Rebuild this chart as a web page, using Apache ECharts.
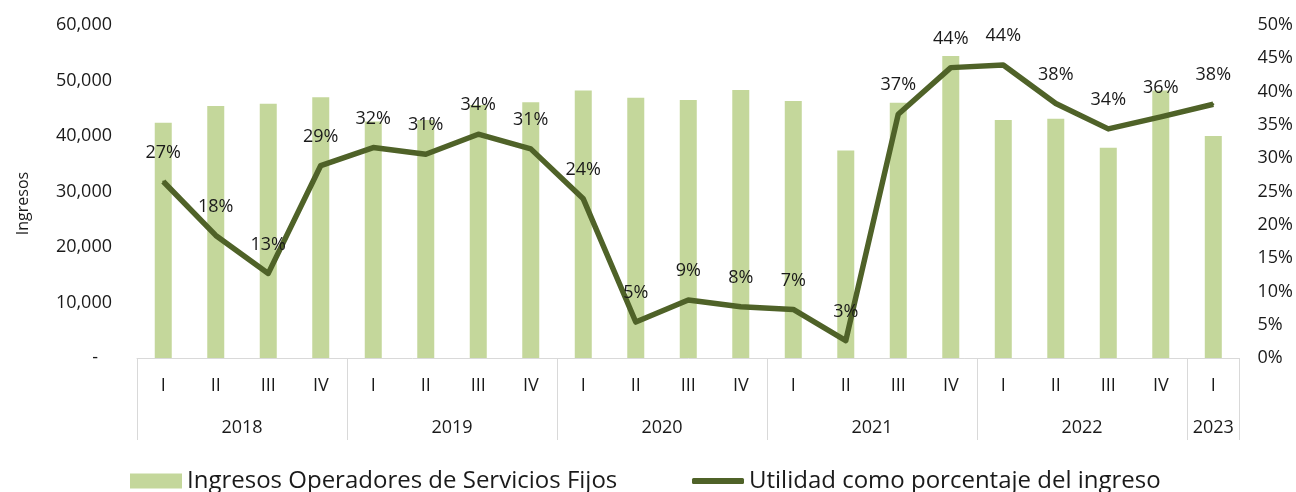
<!DOCTYPE html>
<html>
<head>
<meta charset="utf-8">
<script src="https://cdn.jsdelivr.net/npm/echarts@6/dist/echarts.min.js"></script>
<style>
  html, body { margin: 0; padding: 0; background: #fff; }
  #chart { width: 1296px; height: 492px; }
</style>
</head>
<body>
<div id="chart"></div>
<script>
// trimestres y años
const quarters = ['I', 'II', 'III', 'IV', 'I', 'II', 'III', 'IV', 'I', 'II', 'III', 'IV',
  'I', 'II', 'III', 'IV', 'I', 'II', 'III', 'IV', 'I'];
const years = ['2018', '2019', '2020', '2021', '2022', '2023'];
const yearBreaks = [0, 4, 8, 12, 16, 20, 21];   // limites de cada año (en trimestres)
const yearCenters = [2, 6, 10, 14, 18, 20.5];

// ingresos (barras)
const ingresos = [42400, 45400, 45800, 47000, 42600, 42900, 45600, 46100,
  48200, 46900, 46500, 48300, 46300, 37400, 46000, 54400,
  42900, 43100, 37900, 48200, 40000];
// utilidad como % del ingreso (linea)
const utilidad = [26.5, 18.4, 12.7, 28.9, 31.6, 30.6, 33.6, 31.4,
  23.9, 5.4, 8.7, 7.7, 7.3, 2.6, 36.6, 43.6,
  44.0, 38.2, 34.4, 36.2, 38.1];

// Noto Sans dibuja la "I" con serifas, Open Sans no
const FONT = '"Open Sans", "Liberation Sans", sans-serif';
const TXT = '#1a1a1a';
const VERDE = '#4f6228';

function draw() {
  const chart = echarts.init(document.getElementById('chart'));
  chart.setOption({
    animation: false,
    textStyle: { fontFamily: FONT },
    grid: { left: 137, right: 56, top: 25, bottom: 134 },
    legend: [
      {
        data: ['Ingresos Operadores de Servicios Fijos'],
        left: 130, top: 469, padding: 0,
        icon: 'rect', itemWidth: 52, itemHeight: 15,
        textStyle: { fontSize: 24, color: TXT, fontFamily: FONT }
      },
      {
        data: ['Utilidad como porcentaje del ingreso'],
        left: 692, top: 469, padding: 0,
        icon: 'roundRect', itemWidth: 52, itemHeight: 6,
        textStyle: { fontSize: 24, color: TXT, fontFamily: FONT }
      }
    ],
    xAxis: [
      {
        type: 'category',
        data: quarters,
        axisLine: { lineStyle: { color: '#d9d9d9', width: 1 } },
        axisTick: { show: false },
        axisLabel: { margin: 19, fontSize: 18, color: TXT, fontFamily: FONT }
      },
      {
        type: 'value',
        min: 0, max: 21,
        position: 'bottom',
        axisLine: { show: false },
        splitLine: { show: false },
        axisTick: {
          show: true, length: 82,
          customValues: yearBreaks,
          lineStyle: { color: '#d9d9d9' }
        },
        axisLabel: {
          margin: 61, fontSize: 18, color: TXT, fontFamily: FONT,
          customValues: yearCenters,
          formatter: function (v) { return years[yearCenters.indexOf(v)] || ''; }
        }
      }
    ],
    yAxis: [
      {
        type: 'value',
        min: 0, max: 60000, interval: 10000,
        name: 'Ingresos',
        nameLocation: 'middle',
        nameGap: 106,
        nameTextStyle: { fontSize: 16, color: TXT, fontFamily: FONT, padding: [0, 0, 0, -24] },
        axisLine: { show: false },
        axisTick: { show: false },
        splitLine: { show: false },
        axisLabel: {
          margin: 25, fontSize: 18, color: TXT, fontFamily: FONT,
          formatter: function (v) { return v === 0 ? '-   ' : v.toLocaleString('en-US'); }
        }
      },
      {
        type: 'value',
        min: 0, max: 50, interval: 5,
        axisLine: { show: false },
        axisTick: { show: false },
        splitLine: { show: false },
        axisLabel: {
          margin: 18, fontSize: 18, color: TXT, fontFamily: FONT,
          formatter: '{value}%'
        }
      }
    ],
    series: [
      {
        name: 'Ingresos Operadores de Servicios Fijos',
        type: 'bar',
        xAxisIndex: 0, yAxisIndex: 0,
        barWidth: 17,
        itemStyle: { color: '#c4d79b' },
        data: ingresos
      },
      {
        name: 'Utilidad como porcentaje del ingreso',
        type: 'line',
        xAxisIndex: 0, yAxisIndex: 1,
        symbol: 'circle',
        symbolSize: 2,
        showSymbol: true,
        lineStyle: { width: 5.5, color: VERDE, join: 'round' },
        itemStyle: { color: VERDE },
        label: {
          show: true, position: 'top', distance: 19,
          fontSize: 18, color: TXT, fontFamily: FONT,
          formatter: function (p) { return Math.round(p.value) + '%'; }
        },
        labelLayout: { hideOverlap: false },
        data: utilidad
      }
    ]
  });
  window.addEventListener('resize', function () { chart.resize(); });
}

// esperar a que las fuentes locales estén listas
let done = false;
function once() { if (!done) { done = true; draw(); } }
if (document.fonts && document.fonts.load) {
  document.fonts.load('18px "Open Sans"').then(once, once);
  setTimeout(once, 800);
} else {
  once();
}
</script>
</body>
</html>
